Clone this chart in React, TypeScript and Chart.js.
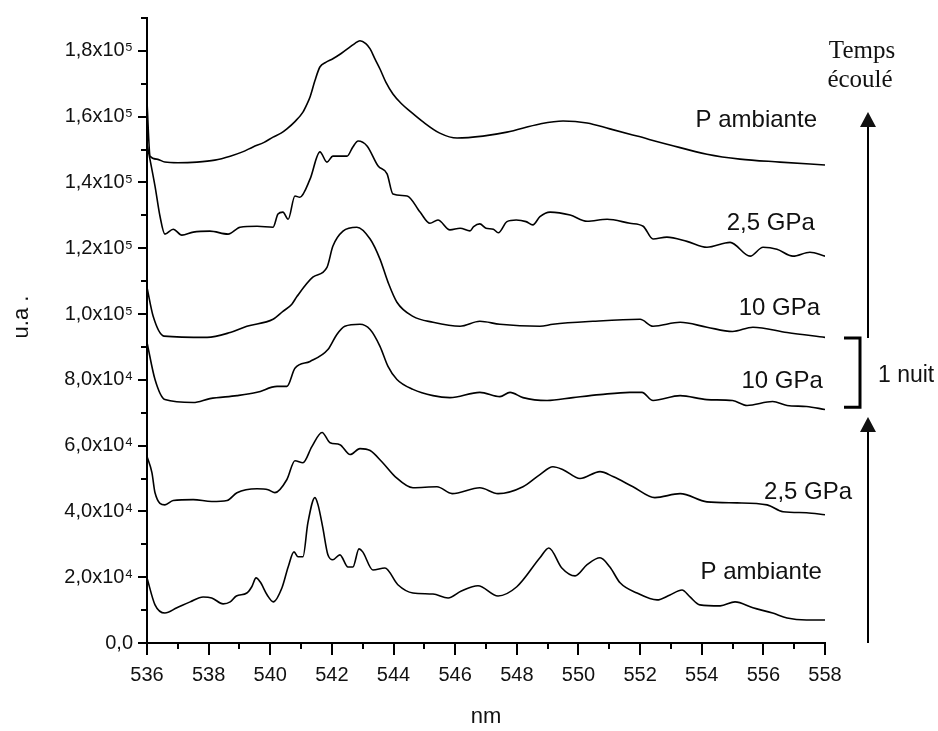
import React, { useEffect, useRef } from 'react';
import { Chart, registerables } from 'chart.js';

Chart.register(...registerables);

// ---- axis ticks ----
const xTickValues = [536, 538, 540, 542, 544, 546, 548, 550, 552, 554, 556, 558];
const yTickValues = [0, 20000, 40000, 60000, 80000, 100000, 120000, 140000, 160000, 180000];
const yTickLabels = ['0,0', '2,0x10⁴', '4,0x10⁴', '6,0x10⁴', '8,0x10⁴', '1,0x10⁵', '1,2x10⁵', '1,4x10⁵', '1,6x10⁵', '1,8x10⁵'];

// ---- series 1 : P ambiante (start) ----
const ambStartNm = [536, 536.26, 536.58, 536.97, 537.4, 537.82, 538.1, 538.47, 538.7, 538.9, 539.24, 539.4, 539.54, 539.67, 539.9, 540.1, 540.38, 540.58, 540.77, 540.9, 541.06, 541.22, 541.45, 541.55, 541.7, 541.87, 542.03, 542.26, 542.52, 542.68, 542.88, 543.0, 543.33, 543.72, 544.14, 544.63, 545.28, 545.77, 546.2, 546.74, 547.39, 548.0, 548.75, 549.04, 549.46, 549.89, 550.28, 550.7, 551.02, 551.35, 551.9, 552.55, 552.97, 553.36, 553.62, 553.94, 554.6, 555.08, 555.66, 556.3, 556.77, 557.4, 558];
const ambStartI = [19800, 11600, 9100, 10700, 12500, 14000, 13700, 11900, 12500, 14300, 15200, 17100, 19800, 18600, 14600, 12500, 16800, 23100, 27700, 26200, 26200, 36500, 44200, 42000, 35300, 26800, 25300, 26800, 23100, 23100, 28600, 27700, 22200, 22800, 17700, 15200, 14900, 13700, 15800, 17400, 14300, 17100, 25900, 28900, 22800, 20400, 23800, 25900, 23100, 18300, 15200, 13100, 14600, 16100, 14000, 11600, 11300, 12500, 10700, 9100, 7600, 7000, 7000];

// ---- series 2 : 2,5 GPa (rising) ----
const gpa25UpNm = [536, 536.16, 536.26, 536.58, 536.85, 537.5, 538.1, 538.6, 538.92, 539.57, 539.93, 540.15, 540.54, 540.8, 541.06, 541.35, 541.68, 541.94, 542.26, 542.59, 542.91, 543.24, 543.62, 544.05, 544.63, 545.41, 545.9, 546.8, 547.39, 548.2, 548.75, 549.17, 549.5, 550.05, 550.7, 551.12, 551.77, 552.48, 553.3, 554.17, 555.14, 556.12, 556.64, 557.4, 558];
const gpa25UpI = [56700, 51800, 45700, 42000, 43300, 43600, 43000, 43300, 45700, 46900, 46600, 45700, 49700, 55400, 54800, 59700, 64000, 60900, 60300, 57300, 59100, 58500, 55100, 50600, 47200, 47500, 45400, 47200, 45400, 47500, 51200, 53600, 52700, 50000, 52100, 50600, 47500, 44200, 45400, 42900, 42600, 42000, 39900, 39600, 39000];

// ---- series 3 : 10 GPa (first) ----
const gpa10FirstNm = [536, 536.26, 536.58, 537.5, 538.04, 538.92, 539.57, 540.22, 540.54, 540.8, 541.29, 541.87, 542.16, 542.42, 542.91, 543.24, 543.56, 543.82, 544.11, 544.63, 545.28, 545.83, 546.8, 547.45, 547.78, 548.2, 548.98, 549.82, 550.7, 551.67, 552.06, 552.42, 553.3, 554.17, 555.0, 555.47, 556.3, 556.77, 557.4, 558];
const gpa10FirstI = [91400, 80100, 74000, 73100, 74300, 75200, 76200, 78000, 78000, 83500, 85600, 89200, 93800, 96300, 96900, 95300, 90200, 84100, 80100, 77100, 75200, 74600, 76200, 74900, 76200, 74600, 73700, 74600, 75500, 76200, 76200, 73700, 75200, 74000, 73700, 72200, 73400, 72200, 71900, 71000];

// ---- series 4 : 10 GPa (after one night) ----
const gpa10NightNm = [536, 536.2, 536.55, 537.95, 538.7, 539.24, 540.09, 540.41, 540.7, 540.87, 541.38, 541.84, 542.03, 542.36, 542.81, 543.24, 543.56, 543.82, 544.11, 544.63, 545.28, 546.16, 546.8, 547.45, 548.75, 549.17, 550.47, 552.0, 552.42, 553.3, 554.17, 555.0, 555.66, 556.77, 558];
const gpa10NightI = [108100, 99300, 93300, 92900, 94400, 96300, 98400, 100800, 103000, 105400, 111200, 114200, 120600, 125200, 126400, 122800, 116700, 109700, 103600, 99300, 97500, 96300, 97800, 96900, 96300, 96900, 97800, 98400, 96300, 97500, 96000, 94700, 96000, 94400, 92900];

// ---- series 5 : 2,5 GPa (decompression) ----
const gpa25DownNm = [536, 536.26, 536.42, 536.58, 536.85, 537.13, 537.5, 538.04, 538.63, 539.02, 539.57, 540.09, 540.25, 540.41, 540.58, 540.8, 540.96, 541.29, 541.61, 541.84, 542.03, 542.49, 542.68, 542.85, 543.14, 543.5, 543.79, 543.98, 544.44, 544.86, 545.18, 545.44, 545.83, 546.16, 546.48, 546.6, 546.8, 547.0, 547.24, 547.4, 547.68, 547.98, 548.3, 548.52, 548.75, 549.08, 549.73, 550.28, 550.93, 551.67, 552.1, 552.42, 552.87, 553.52, 554.17, 554.92, 555.57, 555.99, 556.44, 556.96, 557.51, 558];
const gpa25DownI = [151700, 138900, 129800, 124300, 125800, 124000, 124900, 125200, 124300, 126400, 126700, 126400, 130400, 131000, 128800, 135900, 135500, 141000, 149300, 146200, 148000, 148000, 150800, 152600, 151100, 145000, 142600, 136500, 135900, 131000, 127600, 128600, 125600, 126100, 125300, 126600, 127400, 126100, 125800, 124700, 128100, 128600, 128100, 127100, 129600, 131000, 130100, 128200, 128800, 127600, 126700, 122800, 123400, 122100, 120300, 121800, 117600, 120300, 119700, 117600, 118800, 117600];

// ---- series 6 : P ambiante (end) ----
const ambEndNm = [536, 536.1, 536.32, 536.58, 537.0, 537.62, 538.2, 538.7, 539.1, 539.44, 539.8, 540.09, 540.35, 540.54, 540.8, 541.06, 541.2, 541.29, 541.45, 541.61, 541.8, 542.03, 542.3, 542.59, 542.75, 542.91, 543.1, 543.24, 543.4, 543.56, 543.75, 543.98, 544.25, 544.53, 544.96, 545.5, 546.06, 546.9, 547.68, 548.75, 549.5, 550.28, 551.02, 551.9, 552.97, 554.17, 555.24, 556.54, 558];
const ambEndI = [164500, 148000, 147100, 146200, 146000, 146200, 146800, 148000, 149300, 150800, 152200, 153800, 155000, 156300, 158500, 161400, 164000, 166000, 171000, 175100, 176500, 177600, 179200, 181200, 182300, 183100, 182200, 180600, 177500, 174500, 170500, 166900, 164000, 161700, 158400, 155000, 153500, 154100, 155300, 157800, 158700, 158100, 156300, 154100, 151400, 148600, 147100, 146200, 145300];

// ---- curve labels (right aligned end, baseline value) ----
const curveLabels = ['P ambiante', '2,5 GPa', '10 GPa', '10 GPa', '2,5 GPa', 'P ambiante'];
const curveLabelNm = [557.9, 558.88, 557.93, 557.84, 557.67, 557.74];
const curveLabelI = [19500, 43800, 77500, 99700, 125600, 156900];

// ---- right-hand annotation values ----
const lowerArrowFrom = 0;
const lowerArrowTo = 68700;
const bracketFrom = 71700;
const bracketTo = 92700;
const upperArrowFrom = 92700;
const upperArrowTo = 161400;
const nuitBaseline = 79300;
const tempsBaseline = 177800;
const ecouleBaseline = 169000;

const FONT = "'Liberation Sans', Arial, Helvetica, sans-serif";
const SERIF = "'Liberation Serif', 'Times New Roman', serif";

const seriesList = [
  [ambStartNm, ambStartI],
  [gpa25UpNm, gpa25UpI],
  [gpa10FirstNm, gpa10FirstI],
  [gpa10NightNm, gpa10NightI],
  [gpa25DownNm, gpa25DownI],
  [ambEndNm, ambEndI],
];

const annotPlugin = {
  id: 'annot',
  afterDraw(chart: any) {
    const { ctx, chartArea, scales } = chart;
    const x = scales.x;
    const y = scales.y;
    ctx.save();
    ctx.strokeStyle = '#000';
    ctx.fillStyle = '#000';
    ctx.lineCap = 'butt';

    // tick marks
    ctx.lineWidth = 2;
    for (let v = 0; v <= 190000; v += 10000) {
      const py = Math.round(y.getPixelForValue(v));
      const len = v % 20000 === 0 ? 9 : 6;
      ctx.beginPath();
      ctx.moveTo(chartArea.left - len, py);
      ctx.lineTo(chartArea.left, py);
      ctx.stroke();
    }
    for (let n = 536; n <= 558; n += 1) {
      const px = Math.round(x.getPixelForValue(n));
      const len = n % 2 === 0 ? 12 : 6;
      ctx.beginPath();
      ctx.moveTo(px, chartArea.bottom);
      ctx.lineTo(px, chartArea.bottom + len);
      ctx.stroke();
    }

    // y title
    ctx.save();
    ctx.translate(22, 317);
    ctx.rotate(-Math.PI / 2);
    ctx.font = `22px ${FONT}`;
    ctx.textAlign = 'center';
    ctx.textBaseline = 'middle';
    ctx.fillStyle = '#111';
    ctx.fillText('u.a .', 0, 0);
    ctx.restore();

    // curve labels
    ctx.font = `24px ${FONT}`;
    ctx.textAlign = 'right';
    ctx.textBaseline = 'alphabetic';
    ctx.fillStyle = '#111';
    curveLabels.forEach((t, i) => {
      ctx.fillText(t, x.getPixelForValue(curveLabelNm[i]), y.getPixelForValue(curveLabelI[i]));
    });

    // arrows
    const ax = chartArea.right + 43;
    const drawArrow = (from: number, to: number) => {
      const y0 = y.getPixelForValue(from);
      const y1 = y.getPixelForValue(to);
      ctx.lineWidth = 2;
      ctx.beginPath();
      ctx.moveTo(ax, y0);
      ctx.lineTo(ax, y1 + 12);
      ctx.stroke();
      ctx.beginPath();
      ctx.moveTo(ax, y1);
      ctx.lineTo(ax - 8, y1 + 15);
      ctx.lineTo(ax + 8, y1 + 15);
      ctx.closePath();
      ctx.fill();
    };
    drawArrow(lowerArrowFrom, lowerArrowTo);
    drawArrow(upperArrowFrom, upperArrowTo);

    // bracket
    const bx = chartArea.right + 35;
    const b0 = y.getPixelForValue(bracketFrom);
    const b1 = y.getPixelForValue(bracketTo);
    ctx.lineWidth = 3;
    ctx.lineJoin = 'miter';
    ctx.beginPath();
    ctx.moveTo(bx - 16, b1);
    ctx.lineTo(bx, b1);
    ctx.lineTo(bx, b0);
    ctx.lineTo(bx - 16, b0);
    ctx.stroke();

    // "1 nuit"
    ctx.font = `23px ${FONT}`;
    ctx.textAlign = 'left';
    ctx.fillText('1 nuit', chartArea.right + 53, y.getPixelForValue(nuitBaseline));

    // "Temps écoulé"
    ctx.font = `25px ${SERIF}`;
    ctx.textAlign = 'center';
    ctx.fillText('Temps', chartArea.right + 37, y.getPixelForValue(tempsBaseline));
    ctx.fillText('écoulé', chartArea.right + 35, y.getPixelForValue(ecouleBaseline));

    ctx.restore();
  },
};

export default function App() {
  const canvasRef = useRef<HTMLCanvasElement | null>(null);

  useEffect(() => {
    const canvas = canvasRef.current;
    if (!canvas) return;
    const chart = new Chart(canvas, {
      type: 'line',
      data: {
        datasets: seriesList.map(([nm, val]) => ({
          data: nm.slice(0, Math.min(nm.length, val.length)).map((n, i) => ({ x: n, y: val[i] })),
          borderColor: '#000',
          borderWidth: 1.6,
          pointRadius: 0,
          cubicInterpolationMode: 'monotone',
          fill: false,
        })),
      },
      options: {
        responsive: false,
        animation: false,
        devicePixelRatio: 1,
        layout: { padding: { top: 18, right: 113, left: 0, bottom: 0 } },
        plugins: { legend: { display: false }, tooltip: { enabled: false } },
        scales: {
          x: {
            type: 'linear',
            min: 536,
            max: 558,
            afterBuildTicks: (s: any) => {
              s.ticks = xTickValues.map((v) => ({ value: v }));
            },
            afterFit: (s: any) => {
              s.height = 88;
              s.paddingLeft = 0;
              s.paddingRight = 0;
            },
            grid: { display: false, drawTicks: false },
            border: { display: true, color: '#000', width: 2 },
            ticks: {
              padding: 20,
              color: '#111',
              font: { family: FONT, size: 20 },
              maxRotation: 0,
              autoSkip: false,
              callback: (v: any) => String(v),
            },
            title: {
              display: true,
              text: 'nm',
              color: '#111',
              font: { family: FONT, size: 22 },
              padding: { top: 0, bottom: 1 },
            },
          },
          y: {
            type: 'linear',
            min: 0,
            max: 190000,
            afterBuildTicks: (s: any) => {
              s.ticks = yTickValues.map((v) => ({ value: v }));
            },
            afterFit: (s: any) => {
              s.width = 147;
              s.paddingTop = 0;
              s.paddingBottom = 0;
            },
            grid: { display: false, drawTicks: false },
            border: { display: true, color: '#000', width: 2 },
            ticks: {
              padding: 14,
              color: '#111',
              font: { family: FONT, size: 20 },
              autoSkip: false,
              callback: (v: any) => {
                const idx = yTickValues.indexOf(Number(v));
                return idx >= 0 ? yTickLabels[idx] : '';
              },
            },
          },
        },
      },
      plugins: [annotPlugin],
    });
    return () => chart.destroy();
  }, []);

  return (
    <div style={{ position: 'fixed', left: 0, top: 0, width: 938, height: 731, background: '#fff' }}>
      <canvas ref={canvasRef} width={938} height={731} style={{ width: 938, height: 731 }} />
    </div>
  );
}
